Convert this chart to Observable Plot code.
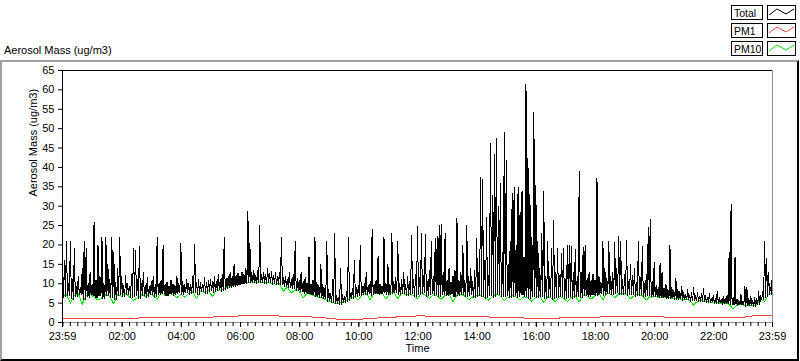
<!DOCTYPE html>
<html>
<head>
<meta charset="utf-8">
<script src="https://cdn.jsdelivr.net/npm/d3@7"></script>
<script src="https://cdn.jsdelivr.net/npm/@observablehq/plot@0.6"></script>
<style>
  html, body { margin: 0; padding: 0; background: #fff; }
  #wrap { position: relative; width: 800px; height: 361px; overflow: hidden; font-family: "Liberation Sans", Arial, sans-serif; color: #000; }
  #title { position: absolute; left: 4px; top: 44px; font-size: 11px; line-height: 13px; white-space: nowrap; }
  #frame { position: absolute; left: 0; top: 60px; width: 799px; height: 301px; box-sizing: border-box;
           border-top: 2px solid #a0a0a0; border-left: 2px solid #a0a0a0; border-right: 2px solid #000; border-bottom: 2px solid #000; pointer-events: none; }
  #chart { position: absolute; left: 0; top: 61px; }
  #legend { position: absolute; left: 726px; top: 0; }
</style>
</head>
<body>
<div id="wrap">
  <div id="title">Aerosol Mass (ug/m3)</div>
  <div id="chart"></div>
  <div id="frame"></div>
  <svg id="legend" width="74" height="61"></svg>
</div>
<script>
// ---------------- data ----------------
const seriesNames = ["Total", "PM1", "PM10"];
const seriesColors = ["#000000", "#ff4040", "#00ee00"];

// Total aerosol mass, one reading every 2 minutes from 23:59 to 23:59 (721 values)
const totalValues = [
  9.5,6.5, 16,6.6, 21,7, 10,6.9, 21,6.2, 11,6, 19,6.8, 9.2,6.6, 12,7.2, 9,7.1,
  14,5.8, 21,6, 19,6.6, 10.2,6.5, 13,7.1, 9.8,7, 26,6.3, 11,6.2, 20,6.8, 12,6.9,
  22,6.2, 10,6.1, 22,6.9, 15,7, 11,6.5, 22,6.4, 18,5.9, 10.3,6, 14,7, 22,7.1,
  12,6.6, 9.6,6.7, 12,7.3, 10,7.2, 9.4,6.4, 12.5,6.5, 19,6.8, 18.7,6.9, 11,6.2, 19.5,6.3,
  10,6.9, 13,7, 9.5,6.5, 11.5,6.6, 9.2,7.2, 10.5,7.3, 12,6.7, 9.8,6.8, 22,7.1, 10.2,7.2,
  11,7.4, 20,7.5, 9.8,6.8, 10.5,6.9, 9.4,7.3, 11,7.4, 10,7, 9.6,7.1, 12,7.5, 10.2,7.6,
  20.5,7.1, 10.5,7.2, 9.8,7.6, 11.2,7.7, 10,7.3, 9.9,7.4, 12,7.7, 20,7.8, 10.4,7.2, 11,7.3,
  10.2,7.9, 9.9,8, 11.5,7.5, 10.4,7.6, 10.8,8.1, 11.2,8.2, 10.5,7.8, 11.8,7.9, 10.7,8.3, 12.5,8.4,
  11,8, 12.5,8.1, 22,8.6, 11.5,8.7, 12,8.9, 13,9, 11.8,9.2, 15,9.3, 12.2,9.5, 12.8,9.6,
  12,9.8, 13,9.9, 12.4,9.9, 14,10, 28.6,10.2, 20.5,10.3, 12.8,10.3, 13.5,10.4, 12.2,10.1, 13.5,10.2,
  25,10.3, 12.5,10.4, 13,10, 12.3,10.1, 14,10.2, 12.6,10.3, 13.2,9.9, 12,10, 12.8,9.7, 11.8,9.8,
  13,9.8, 22,9.9, 11.5,9.2, 12,9.3, 11.2,8.9, 13,9, 11,8.7, 12.5,8.8, 21,8.2, 11.3,8.3,
  10.8,7.9, 13,8, 10.5,7.5, 11.6,7.6, 10.2,7.3, 17,7.4, 10,7, 11,7.1, 22,6.6, 10.4,6.7,
  9.5,6.3, 15,6.4, 9.8,6.1, 8.8,6.2, 21,5.5, 8.5,5.6, 7.5,5.1, 11,5.2, 23,4.8, 7,4.9,
  6.5,4.6, 14,4.7, 7.2,5.1, 6.8,5.2, 8,5.5, 22,5.6, 7.5,6.1, 8.8,6.2, 16,6.6, 9,6.7,
  9.5,6.9, 20,7, 9.2,7.1, 10,7.2, 13,7.3, 9.6,7.4, 10.5,7, 24,7.1, 9.8,7.4, 11,7.5,
  17,7.2, 10,7.3, 9.5,7.5, 22,7.6, 10.2,7.1, 15,7.2, 9.9,7.3, 23,7.4, 10.5,7.6, 11.5,7.7,
  21,7.2, 10,7.3, 11,7.4, 13,7.5, 9.8,6.9, 12,7, 10.5,7.3, 22.4,7.4, 11,6.7, 12.5,6.8,
  24.7,7.2, 11.5,7.3, 22.9,7.5, 12,7.6, 22.6,6.8, 10.5,6.9, 13.5,7.3, 20.9,7.4, 12,7, 21.8,7.1,
  22.2,6.6, 25.1,6.7, 25.4,7.1, 13,7.2, 23,6.8, 11,6.9, 14,7.2, 10.5,7.3, 12,6.5, 13.5,6.6,
  27,6.9, 11,7, 13,7.1, 20,7.2, 10.8,6.6, 25,6.7, 12,7, 14,7.1, 10.5,6.4, 13.5,6.5,
  21.8,6.8, 13,6.9, 37.3,6.7, 37,6.8, 16,6.3, 27,6.4, 12,6.9, 46.2,7, 32.8,6.5, 43.3,6.6,
  47.5,7.1, 30,7.2, 35.8,6.6, 18,6.7, 49,6.8, 41.9,6.9, 15,6.3, 21,6.4, 33.2,6.7, 34.9,6.8,
  20,6.4, 35,6.5, 28.5,7, 34,7.1, 17,6.5, 61.6,6.6, 42.3,6.1, 33,6.2, 22,6.6, 54.3,6.7,
  35.4,6.3, 21,6.4, 14,6.7, 23,6.8, 33.8,6.2, 12,6.3, 21,6.5, 12,6.6, 19,6, 26.3,6.1,
  13,6.4, 19,6.5, 12,6.6, 17.7,6.7, 19,6.1, 11,6.2, 19.8,6.5, 20,6.6, 19.6,6.3, 13,6.4,
  18.9,6.7, 12,6.8, 39,6.4, 13,6.5, 19.3,6.9, 20,7, 11.5,6.6, 13,6.7, 10.8,7.1, 12.5,7.2,
  11,6.8, 37.3,6.9, 12,7.3, 10.5,7.4, 21,7, 14,7.1, 11.5,7.4, 21,7.5, 12,7.1, 13,7.2,
  20.6,7.5, 14,7.6, 22.1,7.2, 21,7.3, 11,7.3, 12.5,7.4, 21.2,7, 10.5,7.1, 15,7.2, 12,7.3,
  14,6.8, 10.2,6.9, 21,7, 11.5,7.1, 19.6,6.7, 10,6.8, 12.5,6.9, 24.5,7, 26.5,6.5, 10.5,6.6,
  15.4,6.6, 9.5,6.7, 9,6.3, 15.4,6.4, 13,6.4, 8.8,6.5, 9.8,6.1, 8.5,6.2, 20,6.2, 9,6.3,
  8.3,5.9, 11.5,6, 8.5,6, 8,6.1, 9.2,5.7, 7.7,5.8, 7.3,5.8, 8.5,5.9, 7,5.5, 7.7,5.6,
  9,5.6, 7,5.7, 7.8,5.3, 6.7,5.4, 7.5,5.4, 8.8,5.5, 6.9,5.1, 6.5,5.2, 7.6,5.2, 6.3,5.3,
  7,4.9, 6.1,5, 8,5, 6.5,5.1, 5.9,4.7, 6.7,4.8, 6.3,4.8, 7.1,4.9, 18,4.5, 30.6,4.6,
  6.5,4.6, 16.9,4.7, 6,4.4, 5.7,4.5, 7.2,4.5, 5.5,4.6, 9.4,4.2, 9,4.3, 6.1,4.3, 6.7,4.4,
  5.8,4.1, 6.5,4.2, 6.3,4.5, 8,4.6, 7,5.8, 8,5.9, 21,6.5, 16.6,6.6, 13,7.1, 9,7.2,
  14.6
];

// PM10, one reading every 8 minutes (181 values)
const pm10Values = [
  6.8, 7.3, 5.0, 7.0, 7.5, 4.7, 6.9, 7.4, 6.5, 5.8,
  6.4, 7.2, 6.7, 4.8, 7.3, 6.8, 7.5, 6.6, 5.7, 6.4,
  7.1, 6.7, 7.4, 6.9, 6.0, 7.6, 7.0, 7.5, 7.2, 6.4,
  7.3, 6.5, 7.5, 7.9, 6.1, 8.1, 7.7, 8.3, 6.7, 8.5,
  8.2, 8.8, 9.1, 9.4, 9.7, 10, 10.1, 10.4, 10.5, 10.3,
  10.5, 10.2, 10.4, 10.1, 9.9, 10, 8.1, 9.1, 7.6, 8.4,
  8.1, 6.4, 7.5, 7.2, 6.8, 6.5, 6.3, 5.7, 5.3, 5.0,
  4.8, 5.3, 5.7, 6.3, 6.8, 5.8, 7.3, 7.5, 5.9, 7.6,
  7.4, 7.7, 6.0, 7.5, 7.8, 6.1, 7.6, 7.1, 7.5, 6.9,
  6.1, 7.7, 7.0, 6.2, 7.2, 6.8, 6.0, 7.0, 7.4, 5.4,
  7.1, 7.3, 6.8, 5.9, 6.6, 7.0, 6.9, 6.5, 5.8, 6.7,
  7.3, 6.8, 5.7, 6.5, 6.9, 6.6, 5.9, 6.7, 6.3, 5.5,
  6.5, 6.9, 5.1, 6.7, 6.2, 5.3, 6.8, 6.3, 5.4, 6.5,
  6.9, 5.3, 7.1, 6.8, 6.0, 7.0, 7.5, 5.9, 7.6, 7.3,
  6.4, 7.4, 7.5, 7.2, 6.1, 7.0, 7.2, 6.9, 5.8, 6.7,
  6.8, 6.5, 6.6, 6.3, 6.4, 6.1, 6.2, 5.9, 6.0, 5.7,
  4.5, 5.5, 5.6, 5.3, 5.4, 5.1, 5.2, 4.9, 5.0, 4.7,
  3.5, 4.6, 4.7, 4.4, 4.5, 4.3, 4.7, 6.0, 5.4, 7.3,
  7.5
];

// PM1, one reading every 30 minutes (49 values)
const pm1Values = [
  1.1, 1.1, 1.1, 1.1, 1.15, 1.15, 1.2, 1.25, 1.3, 1.35,
  1.4, 1.5, 1.7, 1.85, 1.8, 1.6, 1.5, 1.4, 1.1, 0.7,
  0.8, 1.1, 1.3, 1.5, 1.7, 1.65, 1.6, 1.55, 1.5, 1.4,
  1.3, 1.2, 1.0, 1.1, 1.2, 1.3, 1.4, 1.45, 1.45, 1.45,
  1.45, 1.4, 1.4, 1.35, 1.3, 1.3, 1.35, 1.9, 1.7
];

const sampleMinutes = { total: 2, pm10: 8, pm1: 30 };
const yTicks = [0, 5, 10, 15, 20, 25, 30, 35, 40, 45, 50, 55, 60, 65];
const xTickLabels = ["23:59", "02:00", "04:00", "06:00", "08:00", "10:00", "12:00",
                     "14:00", "16:00", "18:00", "20:00", "22:00", "23:59"];

// ---------------- build ----------------
const t0 = Date.UTC(2000, 0, 1, 23, 59);
const t1 = t0 + 24 * 60 * 60000;
const toRows = (vals, step) => vals.map((v, i) => ({ t: new Date(t0 + i * step * 60000), v }));
const totalRows = toRows(totalValues, sampleMinutes.total);
const pm10Rows = toRows(pm10Values, sampleMinutes.pm10);
const pm1Rows = toRows(pm1Values, sampleMinutes.pm1);

const majorTicks = xTickLabels.map((s, i) => {
  if (i === 0) return new Date(t0);
  if (i === xTickLabels.length - 1) return new Date(t1);
  const [h, m] = s.split(":").map(Number);
  return new Date(Date.UTC(2000, 0, 2, h, m));
});
const minorTicks = [new Date(t0), ...d3.utcMinute.every(15).range(new Date(t0), new Date(t1)), new Date(t1)];

const chart = Plot.plot({
  width: 800,
  height: 300,
  marginTop: 9,
  marginBottom: 39,
  marginLeft: 62,
  marginRight: 28,
  style: { fontFamily: "Liberation Sans, Arial, sans-serif", fontSize: "11px", background: "transparent", color: "#000" },
  x: { type: "utc", domain: [new Date(t0), new Date(t1)] },
  y: { domain: [0, 65] },
  marks: [
    Plot.line(pm1Rows, { x: "t", y: "v", stroke: seriesColors[1], strokeWidth: 1, shapeRendering: "crispEdges" }),
    Plot.line(pm10Rows, { x: "t", y: "v", stroke: seriesColors[2], strokeWidth: 1, shapeRendering: "crispEdges" }),
    Plot.line(totalRows, { x: "t", y: "v", stroke: seriesColors[0], strokeWidth: 1, shapeRendering: "crispEdges" }),
    Plot.ruleY([0], { stroke: "#909090" }),
    Plot.ruleX([new Date(t1)], { stroke: "#909090" }),
    Plot.ruleY([65], { stroke: "#000" }),
    Plot.ruleX([new Date(t0)], { stroke: "#000" }),
    Plot.axisY({ ticks: yTicks, tickSize: 4, tickPadding: 4, label: null }),
    Plot.axisX({ ticks: minorTicks, tickSize: 4, tickFormat: () => "", label: null }),
    Plot.axisX({ ticks: majorTicks, tickSize: 5, tickPadding: 5, tickFormat: (d, i) => xTickLabels[i], label: null }),
    Plot.text(["Aerosol Mass (ug/m3)"], { frameAnchor: "left", rotate: -90, dx: -29, fontSize: 11 }),
    Plot.text(["Time"], { frameAnchor: "bottom", dy: 29, fontSize: 11 })
  ]
});
document.getElementById("chart").appendChild(chart);

// ---------------- legend ----------------
const leg = d3.select("#legend");
const rowTop = [5, 23, 41];
seriesNames.forEach((name, i) => {
  const y = rowTop[i];
  leg.append("rect").attr("x", 5.5).attr("y", y + 0.5).attr("width", 31).attr("height", 14)
    .attr("fill", "#fff").attr("stroke", "#000");
  leg.append("text").attr("x", 8).attr("y", y + 11.5).attr("font-size", 10.5)
    .attr("font-family", "Liberation Sans, Arial, sans-serif").text(name);
  leg.append("rect").attr("x", 41.5).attr("y", y + 0.5).attr("width", 28).attr("height", 14)
    .attr("fill", "#fff").attr("stroke", "#000");
  leg.append("polyline")
    .attr("points", [[43, y + 10], [51, y + 4], [60, y + 9], [68, y + 4]].map(p => p.join(",")).join(" "))
    .attr("fill", "none").attr("stroke", seriesColors[i]).attr("stroke-width", 1);
});
</script>
</body>
</html>
